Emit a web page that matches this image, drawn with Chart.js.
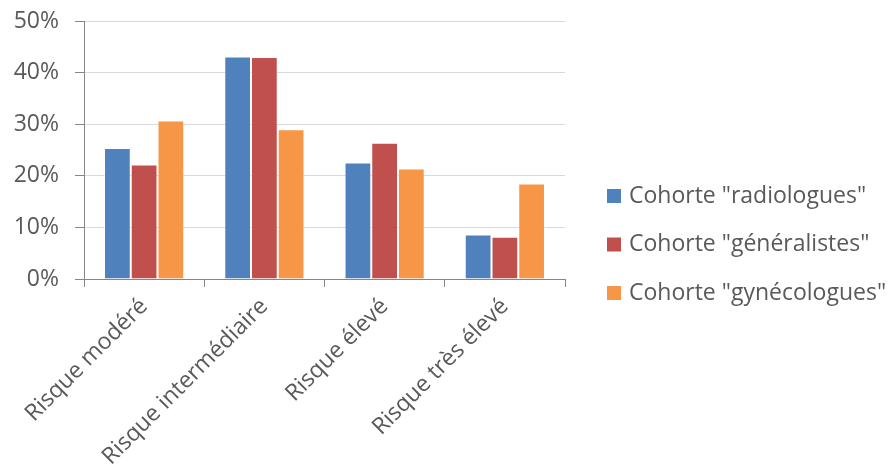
<!DOCTYPE html>
<html>
<head>
<meta charset="utf-8">
<script src="https://cdn.jsdelivr.net/npm/chart.js@4"></script>
<style>
  html, body { margin: 0; padding: 0; background: #fff; }
  #wrap { width: 890px; height: 472px; position: relative; }
</style>
</head>
<body>
<div id="wrap"><canvas id="riskChart" width="890" height="472"></canvas></div>
<script>
// categories and series (percent)
const categories = ['Risque modéré', 'Risque intermédiaire', 'Risque élevé', 'Risque très élevé'];
const seriesNames = ['Cohorte "radiologues"', 'Cohorte "généralistes"', 'Cohorte "gynécologues"'];
const radiologues = [25.4, 43.1, 22.6, 8.6];
const generalistes = [22.2, 43.0, 26.4, 8.2];
const gynecologues = [30.7, 29.0, 21.4, 18.5];
const yTicks = [0, 10, 20, 30, 40, 50];

const colors = ['#4F81BD', '#C0504D', '#F79646'];
const textColor = '#595959';
const FONT = '"Open Sans", Lato, sans-serif';

// legend drawn by hand so it sits where the original one does
const sideLegend = {
  id: 'sideLegend',
  afterDraw(chart) {
    const ctx = chart.ctx;
    const x0 = 607, rows = [196, 244.5, 293];
    ctx.save();
    ctx.font = '23px ' + FONT;
    ctx.textBaseline = 'middle';
    ctx.textAlign = 'left';
    chart.data.datasets.forEach((ds, i) => {
      ctx.fillStyle = ds.backgroundColor;
      ctx.fillRect(x0, rows[i] - 7, 14, 14);
      ctx.fillStyle = textColor;
      ctx.fillText(ds.label, x0 + 22, rows[i]);
    });
    ctx.restore();
  }
};

const ctx = document.getElementById('riskChart').getContext('2d');
new Chart(ctx, {
  type: 'bar',
  data: {
    labels: categories,
    datasets: [radiologues, generalistes, gynecologues].map((data, i) => ({
      label: seriesNames[i],
      data,
      backgroundColor: colors[i],
      borderColor: 'rgba(255,255,255,0.45)',
      borderWidth: 1,
      categoryPercentage: 0.667,
      barPercentage: 1.0,
    })),
  },
  options: {
    responsive: false,
    animation: false,
    layout: { padding: { top: 21, right: 325, left: 0, bottom: 0 } },
    plugins: {
      legend: { display: false },
      tooltip: { enabled: false },
    },
    scales: {
      x: {
        grid: { drawOnChartArea: false, drawTicks: true, tickLength: 8, color: '#868686' },
        border: { color: '#868686', width: 1 },
        ticks: {
          color: textColor,
          font: { family: FONT, size: 23 },
          minRotation: 45,
          maxRotation: 45,
          padding: 6,
        },
        afterFit: (scale) => { scale.height = 193; },
      },
      y: {
        min: 0,
        max: 50,
        afterBuildTicks: (scale) => { scale.ticks = yTicks.map(v => ({ value: v })); },
        grid: { color: '#D9D9D9', lineWidth: 1, tickLength: 9, tickColor: '#868686' },
        border: { color: '#868686', width: 1 },
        ticks: {
          color: textColor,
          font: { family: FONT, size: 23, lineHeight: 0.2 },
          padding: 16,
          callback: (v) => v + '%',
        },
        afterFit: (scale) => { scale.width = 84; },
      },
    },
  },
  plugins: [sideLegend],
});
</script>
</body>
</html>
